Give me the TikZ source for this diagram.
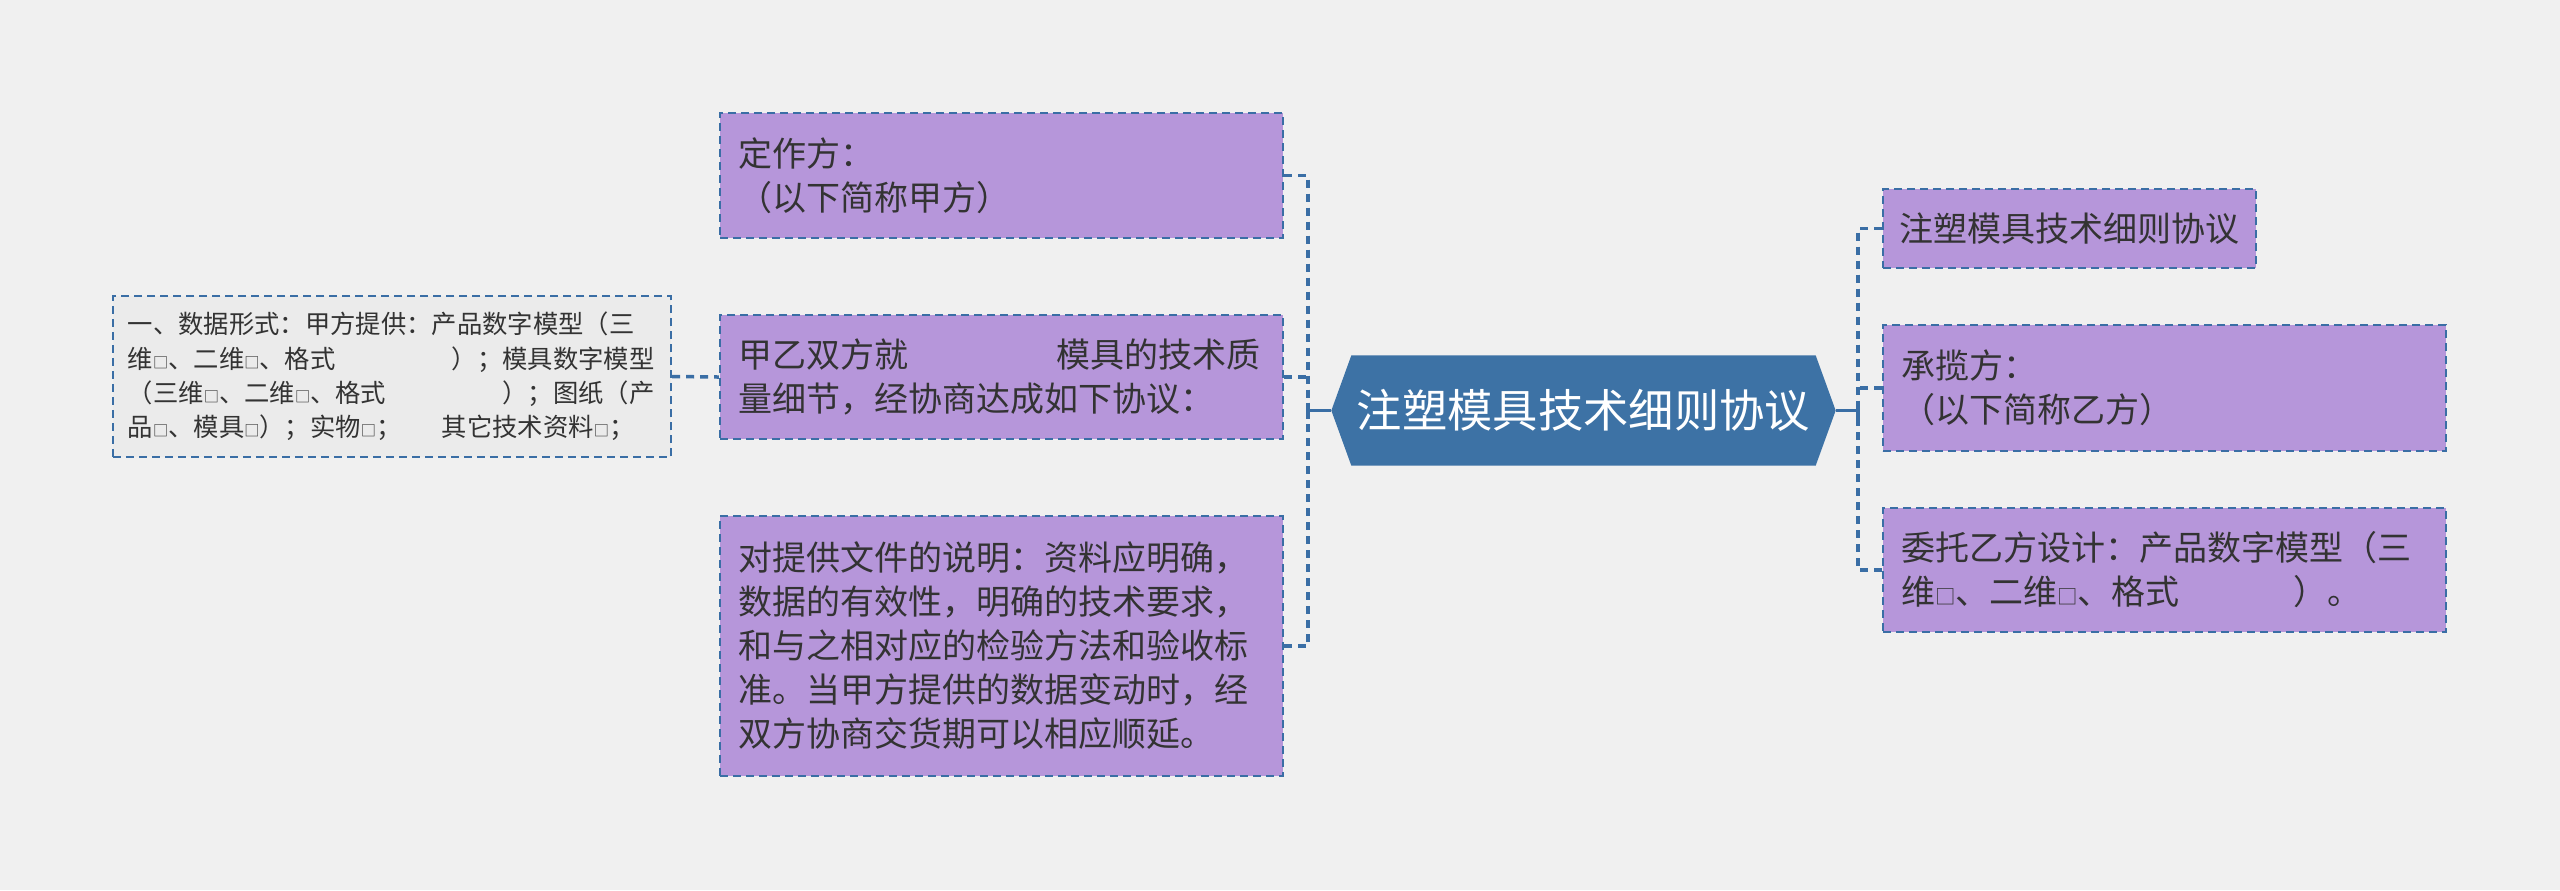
\documentclass[tikz,border=0pt]{standalone}
\usepackage{fontspec}
\setmainfont{Noto Sans CJK SC}
\usetikzlibrary{calc}
\definecolor{bgc}{HTML}{F0F0F0}
\definecolor{purp}{HTML}{B696DA}
\definecolor{bord}{HTML}{3A6EA5}
\definecolor{hexb}{HTML}{3D72A5}
\definecolor{gfill}{HTML}{EBEBEB}
\definecolor{txt}{HTML}{333333}
\newcommand\sqr{\scalebox{0.6}{□}}
\newcommand\jline[2]{\leavevmode\hbox to #1{#2}}
\tikzset{
  boxdash/.style={draw=bord, line width=0.65pt, dash pattern=on 2.4pt off 1.5pt},
  pbox/.style={boxdash, fill=purp, text=txt, align=left, inner sep=0pt,
    text width=158pt, minimum width=168.9pt,
    font=\fontsize{10.2pt}{13.2pt}\selectfont},
  sbox/.style={pbox, text width=101.9pt, minimum width=111.9pt},
  gbox/.style={boxdash, fill=gfill, text=txt, align=left, inner sep=0pt,
    text width=158.5pt, minimum width=167.4pt, minimum height=48.3pt,
    font=\fontsize{7.6pt}{10.3pt}\selectfont},
  hexnode/.style={text=white, inner sep=0pt, minimum width=150.9pt, minimum height=32.7pt,
    font=\fontsize{13.6pt}{16pt}\selectfont},
  conn/.style={draw=bord, line width=1.05pt, dash pattern=on 2.4pt off 1.8pt},
  sconn/.style={draw=bord, line width=1.1pt}
}
\begin{document}
\begin{tikzpicture}[x=0.3pt,y=-0.3pt]
\fill[bgc] (0,0) rectangle (2560,890);
\useasboundingbox (0,0) rectangle (2560,890);

% center hexagon
\node[hexnode] (center) at (1583.5,410.5) {};
\fill[hexb] (center.west) -- ($(center.north west)+(20,0)$) -- ($(center.north east)+(-20,0)$)
  -- (center.east) -- ($(center.south east)+(-20,0)$) -- ($(center.south west)+(20,0)$) -- cycle;
\node[hexnode] at (center) {注塑模具技术细则协议};

% left boxes
\node[pbox, minimum height=37.5pt] (b1) at (1001.5,175.5) {定作方：\\（以下简称甲方）};
\node[pbox, minimum height=37.2pt] (b2) at (1001.5,377) {\jline{156.7pt}{甲乙双方就\hfill 模具的技术质}\\量细节，经协商达成如下协议：};
\node[pbox, minimum height=78pt] (b3) at (1001.5,646) {对提供文件的说明：资料应明确，\\数据的有效性，明确的技术要求，\\和与之相对应的检验方法和验收标\\准。当甲方提供的数据变动时，经\\双方协商交货期可以相应顺延。};

\node[gbox] (g) at (392,376.5) {一、数据形式：甲方提供：产品数字模型（三\\
\jline{158pt}{维\sqr、二维\sqr、格式\hfill）；模具数字模型}\\
\jline{158pt}{（三维\sqr、二维\sqr、格式\hfill）；图纸（产}\\
\jline{152pt}{品\sqr、模具\sqr）；实物\sqr；\hfill 其它技术资料\sqr；}};

% right boxes
\node[sbox, minimum height=23.7pt] (r1) at (2069.5,228.5) {注塑模具技术细则协议};
\node[pbox, minimum height=37.8pt] (r2) at (2164.5,388) {承揽方：\\（以下简称乙方）};
\node[pbox, minimum height=37.2pt] (r3) at (2164.5,570) {委托乙方设计：产品数字模型（三\\
\jline{138pt}{维\sqr、二维\sqr、格式\hfill）。}};

% connectors left
\coordinate (lt) at (1308,410.5);
\draw[conn] (b1.east) -| (lt);
\draw[conn] (b3.east) -| (lt);
\draw[conn] (b2.east) -- (b2.east -| lt);
\draw[sconn] (center.west) -- (lt);
\draw[sconn] ($(lt)+(0,-8)$) -- ($(lt)+(0,8)$);
\draw[conn] (g.east) -- (b2.west);

% connectors right
\coordinate (rt) at (1858,410.5);
\draw[conn] (r1.west) -| (rt);
\draw[conn] (r3.west) -| (rt);
\draw[conn] (r2.west) -- (r2.west -| rt);
\draw[sconn] (center.east) -- (rt);
\draw[sconn] ($(rt)+(0,-8)$) -- ($(rt)+(0,8)$);
\end{tikzpicture}
\end{document}
